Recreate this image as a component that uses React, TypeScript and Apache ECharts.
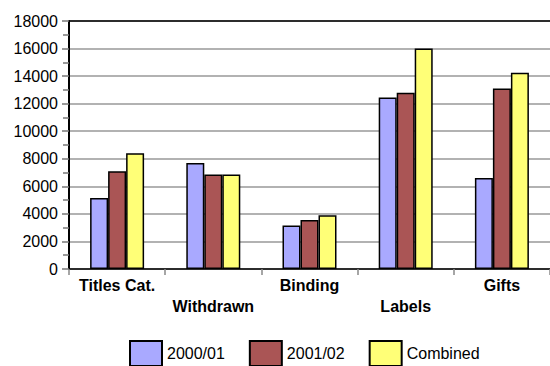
import React, { useEffect, useRef } from "react";
import * as echarts from "echarts";

const categories = ["Titles Cat.", "Withdrawn", "Binding", "Labels", "Gifts"];
const series2000 = [5150, 7700, 3150, 12450, 6600];
const series2001 = [7100, 6850, 3550, 12800, 13100];
const seriesCombined = [8400, 6850, 3900, 16000, 14250];
const seriesNames = ["2000/01", "2001/02", "Combined"];
const colors = ["#A9A9FF", "#AA5555", "#FFFF77"];

const FONT = "'Liberation Sans', Arial, sans-serif";

export default function App() {
  const ref = useRef<HTMLDivElement>(null);
  useEffect(() => {
    if (!ref.current) return;
    const chart = echarts.init(ref.current, undefined, { renderer: "svg" });
    const data = [series2000, series2001, seriesCombined];
    chart.setOption({
      animation: false,
      textStyle: { fontFamily: FONT },
      grid: { left: 69, top: 21, bottom: 97, right: -9, containLabel: false },
      legend: {
        data: seriesNames,
        icon: "rect",
        left: 124,
        top: 335,
        padding: 5,
        itemWidth: 32,
        itemHeight: 25,
        itemGap: 24,
        textStyle: { fontSize: 16, color: "#000", fontFamily: FONT },
      },
      xAxis: [
        {
          type: "category",
          data: categories,
          axisLine: { lineStyle: { color: "#000", width: 1.5 } },
          axisTick: { show: true, length: 6, lineStyle: { color: "#888", width: 1.5 } },
          axisLabel: {
            interval: 0,
            margin: 6,
            fontSize: 16,
            fontWeight: "bold",
            color: "#000",
            lineHeight: 21,
            fontFamily: FONT,
            formatter: (v: string, i: number) => (i % 2 === 1 ? "\n" + v : v),
          },
        },
        {
          type: "category",
          position: "top",
          data: categories,
          axisLine: { show: true, lineStyle: { color: "#000", width: 1.5 } },
          axisTick: { show: false },
          axisLabel: { show: false },
        },
      ],
      yAxis: {
        type: "value",
        min: 0,
        max: 18000,
        interval: 2000,
        axisLine: { show: true, lineStyle: { color: "#000", width: 2 } },
        axisTick: { show: true, length: 7, lineStyle: { color: "#777", width: 1.5 } },
        minorTick: { show: true, splitNumber: 2, length: 6, lineStyle: { color: "#777", width: 1.5 } },
        axisLabel: {
          fontSize: 16,
          color: "#000",
          margin: 11,
          fontFamily: FONT,
          formatter: (v: number) => String(v),
        },
        splitLine: { lineStyle: { color: "#999", width: 1.5 } },
      },
      series: seriesNames.map((name, i) => ({
        name,
        type: "bar",
        data: data[i],
        barWidth: 18,
        barGap: "0%",
        itemStyle: { color: colors[i], borderColor: "#000", borderWidth: 1.5 },
      })),
    });
    return () => chart.dispose();
  }, []);
  return <div ref={ref} style={{ width: 550, height: 366, position: "absolute", left: 0, top: 0 }} />;
}
